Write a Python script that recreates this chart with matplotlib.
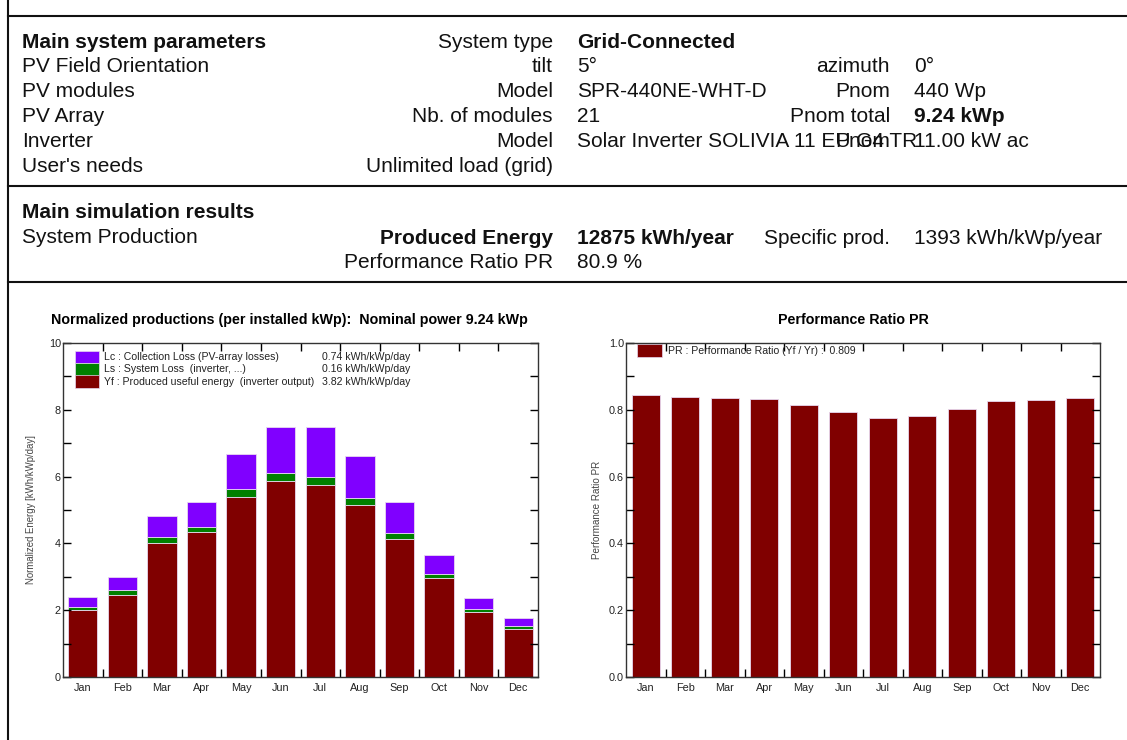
import matplotlib
matplotlib.use("Agg")
import matplotlib.pyplot as plt
from matplotlib.lines import Line2D
from matplotlib.patches import Rectangle
import numpy as np

plt.rcParams['font.family'] = ['Liberation Sans', 'DejaVu Sans']

months = ['Jan', 'Feb', 'Mar', 'Apr', 'May', 'Jun', 'Jul', 'Aug', 'Sep', 'Oct', 'Nov', 'Dec']
# normalized energies, kWh/kWp/day
yf = [2.02, 2.47, 4.02, 4.34, 5.40, 5.88, 5.75, 5.16, 4.14, 2.96, 1.95, 1.45]
ls = [0.08, 0.13, 0.16, 0.16, 0.22, 0.24, 0.23, 0.20, 0.16, 0.13, 0.09, 0.07]
lc = [0.30, 0.40, 0.65, 0.73, 1.05, 1.38, 1.52, 1.27, 0.93, 0.56, 0.33, 0.26]
# performance ratio per month
pr = [0.845, 0.839, 0.836, 0.832, 0.815, 0.792, 0.775, 0.782, 0.801, 0.825, 0.830, 0.836]

W, H = 1127, 740
fig = plt.figure(figsize=(W / 100, H / 100), dpi=100)


def fx(x):
    return x / W


def fy(y):
    return 1 - y / H


def ftext(x, y, s, ha='left', bold=False, size=15):
    # y is the middle of the capitals; place on a common baseline
    fig.text(fx(x), fy(y + 7), s, ha=ha, va='baseline', fontsize=size,
             fontweight='bold' if bold else 'normal', color='#111111')


# frame lines of the report page
fig.add_artist(Line2D([fx(8), fx(8)], [fy(0), fy(740)], color='#111111', lw=1.5))
for yy in [16, 186, 282]:
    fig.add_artist(Line2D([fx(8), fx(1127)], [fy(yy), fy(yy)], color='#111111', lw=1.5))

# system parameters block
ftext(22, 41, 'Main system parameters', bold=True)
ftext(553, 41, 'System type', ha='right')
ftext(577, 41, 'Grid-Connected', bold=True)

ftext(22, 65, 'PV Field Orientation')
ftext(553, 65, 'tilt', ha='right')
ftext(577, 65, '5°')
ftext(890, 65, 'azimuth', ha='right')
ftext(914, 65, '0°')

ftext(22, 90, 'PV modules')
ftext(553, 90, 'Model', ha='right')
ftext(577, 90, 'SPR-440NE-WHT-D')
ftext(890, 90, 'Pnom', ha='right')
ftext(914, 90, '440 Wp')

ftext(22, 115, 'PV Array')
ftext(553, 115, 'Nb. of modules', ha='right')
ftext(577, 115, '21')
ftext(890, 115, 'Pnom total', ha='right')
ftext(914, 115, '9.24 kWp', bold=True)

ftext(22, 140, 'Inverter')
ftext(553, 140, 'Model', ha='right')
ftext(577, 140, 'Solar Inverter SOLIVIA 11 EU G4 TR')
ftext(890, 140, 'Pnom', ha='right')
ftext(914, 140, '11.00 kW ac')

ftext(22, 165, "User's needs")
ftext(553, 165, 'Unlimited load (grid)', ha='right')

# simulation results block
ftext(22, 211, 'Main simulation results', bold=True)
ftext(22, 236, 'System Production')
ftext(553, 237, 'Produced Energy', ha='right', bold=True)
ftext(577, 237, '12875 kWh/year', bold=True)
ftext(890, 237, 'Specific prod.', ha='right')
ftext(914, 237, '1393 kWh/kWp/year')
ftext(553, 261, 'Performance Ratio PR', ha='right')
ftext(577, 261, '80.9 %')

purple = '#8000ff'
green = '#008000'
red = '#800000'
edge = '#e8d8f0'


def style_axes(ax, ymax, major, minor, fmt):
    ax.set_xlim(-0.5, 11.5)
    ax.set_ylim(0, ymax)
    ax.set_xticks(np.arange(12))
    ax.set_xticklabels(months, fontsize=7.8, color='#222222')
    ax.set_xticks(np.arange(0.5, 11.5, 1), minor=True)
    ax.set_yticks(np.arange(0, ymax + 1e-9, major))
    ax.set_yticklabels([fmt % v for v in np.arange(0, ymax + 1e-9, major)], fontsize=7.8,
                       color='#222222')
    ax.set_yticks(np.arange(minor, ymax, major), minor=True)
    ax.tick_params(axis='x', which='major', length=0, pad=4)
    ax.tick_params(axis='x', which='minor', direction='in', length=6, top=True, bottom=True, width=1)
    ax.tick_params(axis='y', which='both', direction='in', length=6, left=True, right=True, width=1, pad=1.5)
    for sp in ax.spines.values():
        sp.set_color('#333333')
        sp.set_linewidth(1)


# normalized productions chart
ax1 = fig.add_axes([fx(63), fy(677), fx(538) - fx(63), fy(343) - fy(677)])
x = np.arange(12)
ax1.bar(x, yf, width=0.74, color=red, edgecolor=edge, linewidth=0.6)
ax1.bar(x, ls, width=0.74, bottom=yf, color=green, edgecolor=edge, linewidth=0.6)
ax1.bar(x, lc, width=0.74, bottom=np.array(yf) + np.array(ls), color=purple, edgecolor=edge, linewidth=0.6)
style_axes(ax1, 10, 2, 1, '%d')
ax1.set_ylabel('Normalized Energy [kWh/kWp/day]', fontsize=6.9, color='#444444', labelpad=9)
fig.text(fx(289), fy(320), 'Normalized productions (per installed kWp):  Nominal power 9.24 kWp',
         fontsize=10.3, fontweight='bold', ha='center', va='center')

leg_rows = [(purple, 'Lc : Collection Loss (PV-array losses)', '0.74 kWh/kWp/day'),
            (green, 'Ls : System Loss  (inverter, ...)', '0.16 kWh/kWp/day'),
            (red, 'Yf : Produced useful energy  (inverter output)', '3.82 kWh/kWp/day')]
for i, (c, lab, val) in enumerate(leg_rows):
    yrow = 357 + i * 12.3
    ax1.add_patch(Rectangle((fx(75), fy(yrow + 6.2)), fx(99) - fx(75), fy(yrow - 6.2) - fy(yrow + 6.2),
                            transform=fig.transFigure, facecolor=c, edgecolor=edge, lw=0.5,
                            clip_on=False))
    fig.text(fx(104), fy(yrow), lab, fontsize=7.6, va='center', ha='left', color='#222222')
    fig.text(fx(410), fy(yrow), val, fontsize=7.6, va='center', ha='right', color='#222222')

# performance ratio chart
ax2 = fig.add_axes([fx(626), fy(677), fx(1100) - fx(626), fy(343) - fy(677)])
ax2.bar(x, pr, width=0.72, color=red, edgecolor=edge, linewidth=0.6)
style_axes(ax2, 1.0, 0.2, 0.1, '%.1f')
ax2.set_ylabel('Performance Ratio PR', fontsize=7.1, color='#444444', labelpad=5)
fig.text(fx(853), fy(320), 'Performance Ratio PR', fontsize=10.3, fontweight='bold',
         ha='center', va='center')
ax2.add_patch(Rectangle((fx(637), fy(357)), fx(662) - fx(637), fy(344) - fy(357),
                        transform=fig.transFigure, facecolor=red, edgecolor=edge, lw=0.5,
                        clip_on=False))
fig.text(fx(668), fy(351), 'PR : Performance Ratio (Yf / Yr) :  0.809', fontsize=7.6,
         va='center', ha='left', color='#222222')

fig.savefig('out.png', dpi=100)
